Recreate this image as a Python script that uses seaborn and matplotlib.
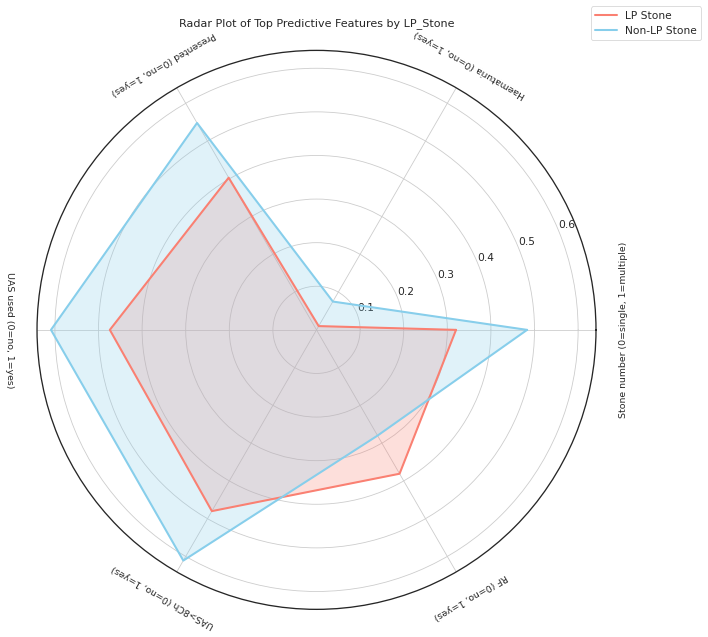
import numpy as np
import matplotlib
matplotlib.use("Agg")
import matplotlib.pyplot as plt
import seaborn as sns

features = [
    "Stone number (0=single, 1=multiple)",
    "Haematuria (0=no, 1=yes)",
    "Presented (0=no, 1=yes)",
    "UAS used (0=no, 1=yes)",
    "UAS>8Ch (0=no, 1=yes)",
    "RF (0=no, 1=yes)",
]
lp_stone = [0.320, 0.010, 0.403, 0.474, 0.480, 0.381]
non_lp_stone = [0.483, 0.075, 0.548, 0.609, 0.611, 0.280]

sns.set_style("whitegrid")
plt.rcParams["font.family"] = ["DejaVu Sans"]

n = len(features)
angles = np.linspace(0, 2 * np.pi, n, endpoint=False)
closed = np.concatenate([angles, angles[:1]])

fig = plt.figure(figsize=(12, 10.8), dpi=59)
ax = fig.add_axes([0.0523, 0.0432, 0.7895, 0.8776], projection="polar")

series = [("LP Stone", lp_stone, "salmon"), ("Non-LP Stone", non_lp_stone, "skyblue")]
for name, vals, col in series:
    v = np.concatenate([vals, vals[:1]])
    ax.plot(closed, v, color=col, linewidth=2.5, label=name)
    ax.fill(closed, v, color=col, alpha=0.25)

ax.set_ylim(0, 0.641)
ax.set_yticks([0.1, 0.2, 0.3, 0.4, 0.5, 0.6])
ax.set_yticklabels(["0.1", "0.2", "0.3", "0.4", "0.5", "0.6"], fontsize=13, color=".15")
ax.set_rlabel_position(22.5)
ax.set_xticks(angles)
ax.set_xticklabels([])
ax.grid(color=".8", linewidth=1)
ax.spines["polar"].set_color(".15")
ax.spines["polar"].set_linewidth(1.6)

for a, lab in zip(angles, features):
    deg = np.degrees(a)
    rot = deg + 90 if deg <= 180 else deg - 90
    ax.text(a, 0.705, lab, rotation=rot, rotation_mode="anchor",
            ha="center", va="center", fontsize=11.5, color=".15", clip_on=False)

ax.set_title("Radar Plot of Top Predictive Features by LP_Stone", fontsize=13.5,
             color=".15", y=1.035)
fig.legend(loc="upper right", bbox_to_anchor=(0.998, 0.998), fontsize=13)

fig.savefig("out.png", dpi=59)
